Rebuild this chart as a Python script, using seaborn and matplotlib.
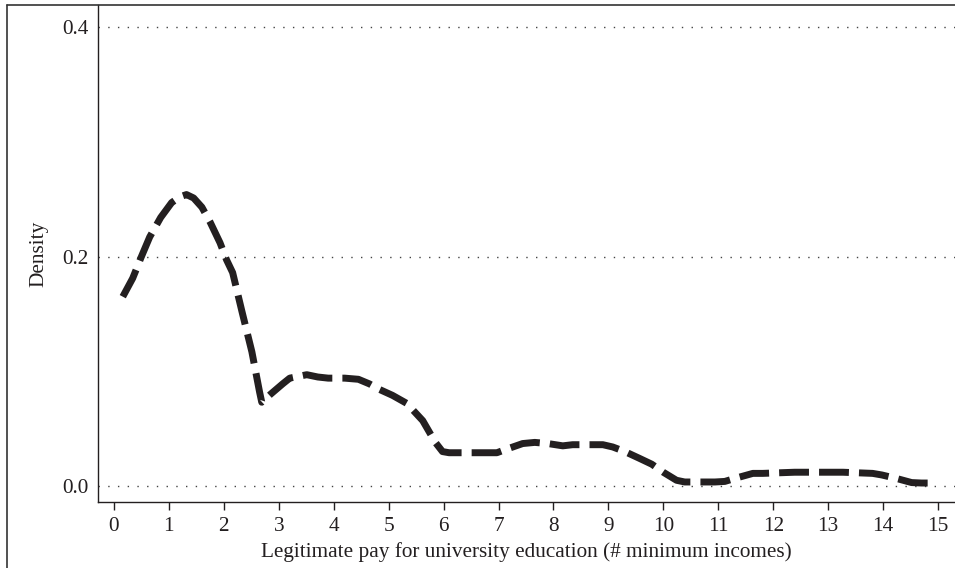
import matplotlib
matplotlib.use("Agg")
import matplotlib.pyplot as plt
from matplotlib.lines import Line2D
import seaborn as sns
import pandas as pd

# Kernel density estimate of legitimate pay (in minimum incomes)
pay = [0.16, 0.34, 0.50, 0.65, 0.85, 1.05, 1.20, 1.32, 1.45, 1.60, 1.75, 1.93,
       2.05, 2.16, 2.33, 2.51, 2.65, 2.69, 2.85, 3.07, 3.20, 3.51, 3.71, 3.90,
       4.20, 4.45, 4.65, 4.84, 5.07, 5.33, 5.62, 5.85, 5.98, 6.10, 6.50, 6.78,
       6.97, 7.20, 7.44, 7.66, 7.90, 8.17, 8.35, 8.90, 9.08, 9.30, 9.57, 9.79,
       10.00, 10.24, 10.39, 10.94, 11.12, 11.33, 11.63, 11.81, 12.39, 13.08,
       13.27, 13.81, 13.98, 14.25, 14.52, 14.70, 14.98]
density = [0.165, 0.181, 0.200, 0.217, 0.234, 0.247, 0.252, 0.254, 0.251, 0.243,
           0.230, 0.212, 0.197, 0.186, 0.152, 0.117, 0.082, 0.073, 0.080, 0.089,
           0.094, 0.097, 0.095, 0.094, 0.094, 0.093, 0.089, 0.084, 0.079, 0.072,
           0.057, 0.038, 0.030, 0.029, 0.029, 0.029, 0.029, 0.033, 0.037, 0.038,
           0.037, 0.035, 0.036, 0.036, 0.034, 0.030, 0.024, 0.019, 0.012, 0.005,
           0.0035, 0.0035, 0.004, 0.007, 0.011, 0.011, 0.012, 0.012, 0.012,
           0.011, 0.0096, 0.0065, 0.003, 0.0026, 0.0026]

x_ticks = list(range(0, 16))
y_ticks = [0.0, 0.2, 0.4]
y_tick_labels = ["0.0", "0.2", "0.4"]

df = pd.DataFrame({"pay": pay, "density": density})

sns.set_theme(style="white")
plt.rcParams["font.family"] = ["Liberation Serif", "DejaVu Serif"]

INK = "#231f20"
FS = 15.3

W, H = 955, 568
fig = plt.figure(figsize=(W / 100, H / 100), dpi=100)
ax = fig.add_axes([98 / W, (H - 502) / H, (W - 98) / W, (502 - 5) / H])

sns.lineplot(data=df, x="pay", y="density", ax=ax, color=INK,
             linewidth=5.0, linestyle=(0, (4.3, 1.45)), solid_capstyle="butt",
             dash_capstyle="butt", dash_joinstyle="round", zorder=3)

ax.set_xlim(-0.291, 15.31)
ax.set_ylim(-0.01394, 0.4192)

for yv in y_ticks:
    ax.axhline(yv, color="#444444", linewidth=1.0, linestyle=(0, (1, 6)), zorder=1)

ax.set_xticks(x_ticks)
ax.set_xticklabels([str(t) for t in x_ticks])
ax.set_yticks(y_ticks)
ax.set_yticklabels(y_tick_labels)

ax.tick_params(axis="x", direction="out", length=6, width=1.0, color=INK,
               labelsize=FS, pad=5, bottom=True, labelcolor=INK)
ax.tick_params(axis="y", length=0, labelsize=FS, pad=7, left=True,
               labelcolor=INK)

for side in ["top", "right"]:
    ax.spines[side].set_visible(False)
for side in ["left", "bottom"]:
    ax.spines[side].set_color(INK)
    ax.spines[side].set_linewidth(1.0)

ax.set_xlabel("Legitimate pay for university education (# minimum incomes)",
              fontsize=FS, color=INK, labelpad=4)
ax.set_ylabel("Density", fontsize=FS, color=INK, labelpad=10)
ax.grid(False)

# outer frame of the graph region
fig.add_artist(Line2D([7 / W, 7 / W], [0, 1 - 5 / H], transform=fig.transFigure,
                      color="#333333", linewidth=1.2))
fig.add_artist(Line2D([7 / W, 1], [1 - 5 / H, 1 - 5 / H], transform=fig.transFigure,
                      color="#333333", linewidth=1.2))

fig.savefig("out.png", dpi=100, facecolor="white")
